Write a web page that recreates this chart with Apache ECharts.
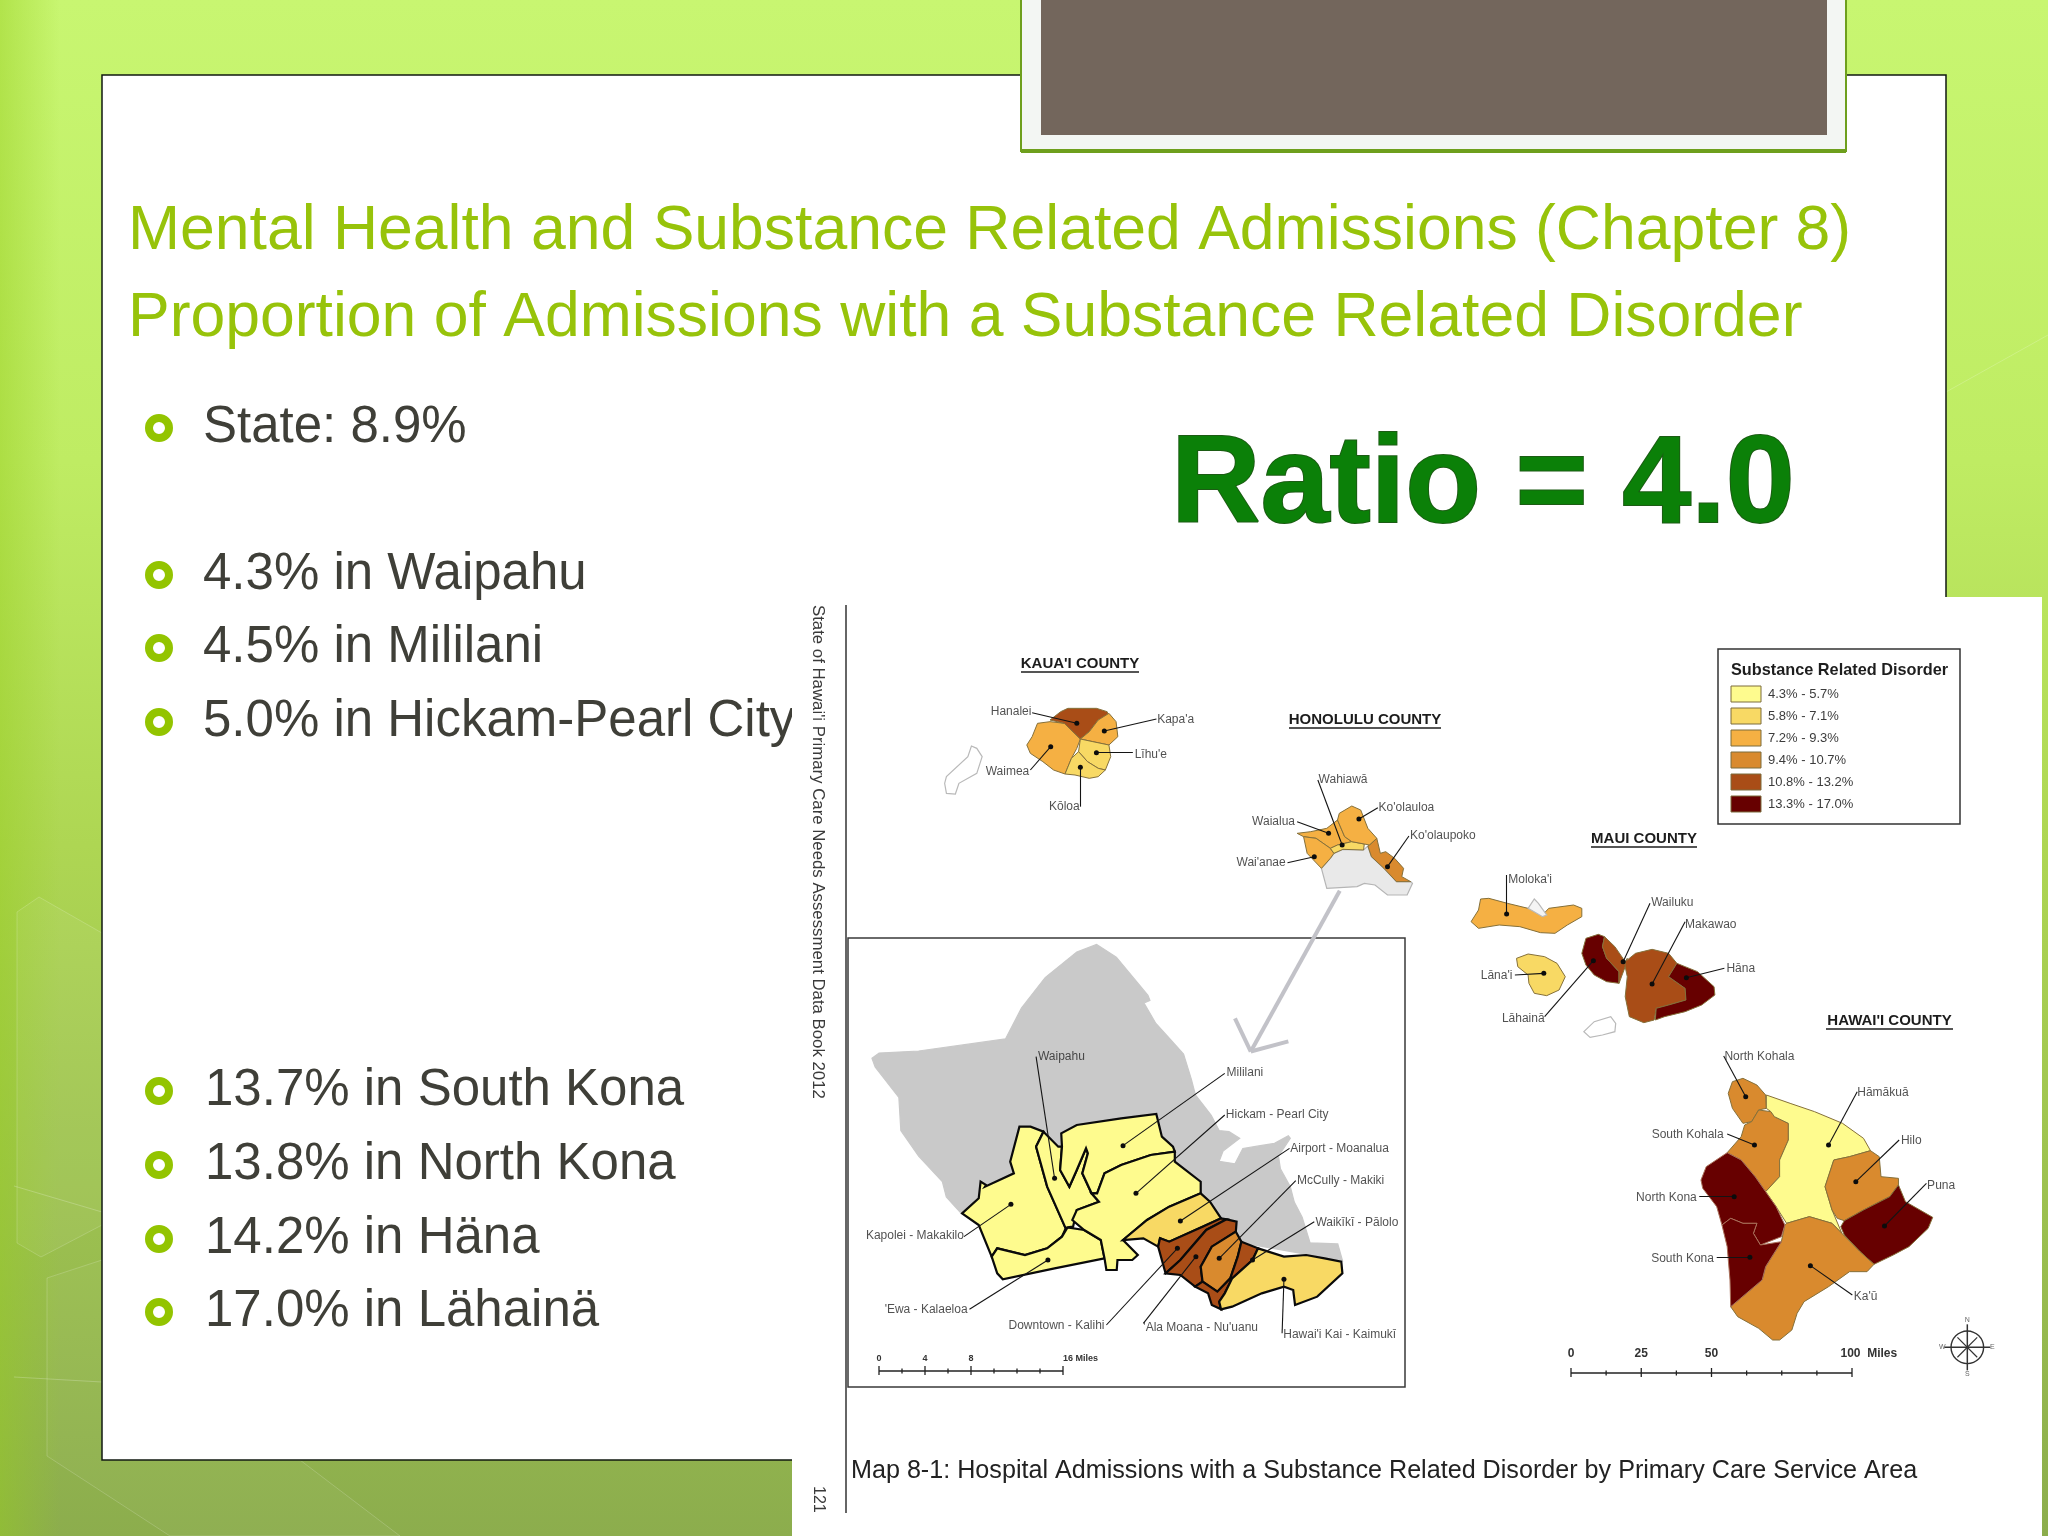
<!DOCTYPE html>
<html>
<head>
<meta charset="utf-8">
<title>Proportion of Admissions with a Substance Related Disorder</title>
<script src="https://cdn.jsdelivr.net/npm/echarts@6/dist/echarts.min.js"></script>
<style>
    html, body { margin: 0; padding: 0; background: #fff; }
    #slide { width: 2048px; height: 1536px; }
</style>
</head>
<body>
<div id="slide"></div>
<script>
var regionNames = [
    'Hanalei', "Kapa'a", "Līhu'e", 'Waimea', 'Kōloa',
    'Waialua', 'Wahiawā', "Ko'olauloa", "Ko'olaupoko", "Wai'anae",
    'Waipahu', 'Mililani', 'Hickam - Pearl City', 'Kapolei - Makakilo', "'Ewa - Kalaeloa",
    'Airport - Moanalua', 'Downtown - Kalihi', "'Ala Moana - Nu'uanu", 'McCully - Makiki',
    'Waikīkī - Pālolo', "Hawai'i Kai - Kaimukī",
    "Moloka'i", "Lāna'i", 'Lāhainā', 'Wailuku', 'Makawao', 'Hāna',
    'North Kohala', 'South Kohala', 'Hāmākuā', 'Hilo', 'Puna', "Ka'ū", 'North Kona', 'South Kona'
];
var regionRates = [
    11.6, 8.2, 6.5, 8.6, 6.3,
    8.0, 6.6, 8.5, 10.0, 8.7,
    4.3, 4.5, 5.0, 5.2, 5.4,
    6.4, 11.8, 12.2, 10.2,
    11.2, 6.8,
    8.8, 6.2, 17.0, 11.6, 11.9, 14.2,
    9.8, 9.9, 5.5, 9.6, 13.5, 10.4, 13.8, 13.7
];
var legendLabels = ['4.3% - 5.7%', '5.8% - 7.1%', '7.2% - 9.3%', '9.4% - 10.7%', '10.8% - 13.2%', '13.3% - 17.0%'];
var legendMin = [4.3, 5.8, 7.2, 9.4, 10.8, 13.3];
var legendMax = [5.7, 7.1, 9.3, 10.7, 13.2, 17.0];
var legendColors = ['#fefb8e', '#f8d964', '#f5b043', '#d98a2e', '#a94d17', '#670000'];

var stateLine = 'State: 8.9%';
var lowAreas = ['Waipahu', 'Mililani', 'Hickam-Pearl City'];
var lowRates = ['4.3', '4.5', '5.0'];
var highAreas = ['South Kona', 'North Kona', 'Häna', 'Lähainä'];
var highRates = ['13.7', '13.8', '14.2', '17.0'];

// where each outline was traced from: left, top, x zoom, y zoom of the tracing crop
var crops = {
    kauai: [900, 620, 2.8, 3],
    oahuInset: [840, 1030, 2.703, 3],
    oahuTop: [800, 600, 2.529, 1.96],
    maui: [1400, 600, 2.42, 3],
    big: [1500, 980, 2.861, 3]
};
function px(crop, x, y) {
    var c = crops[crop];
    return [c[0] + x / c[2], c[1] + y / c[3]];
}

// region outlines for the map, in traced crop units. drawn in this order
var outlines = [
    ['oahu grey', 'oahuTop', [[182,898],[200,888],[300,884],[430,870],[520,860],[560,800],[620,740],[700,690],[750,675],[800,700],[880,775],[885,785],[870,790],[900,830],[935,860],[970,890],[990,940],[1000,970],[1040,1010],[1060,1040],[1085,1042],[1112,1055],[1070,1080],[1060,1100],[1100,1105],[1120,1075],[1160,1070],[1200,1065],[1235,1050],[1240,1055],[1210,1090],[1215,1115],[1240,1150],[1250,1180],[1270,1210],[1290,1260],[1360,1262],[1372,1295],[900,1230],[405,1200],[370,1170],[360,1140],[300,1090],[255,1040],[250,975],[190,915]]],
    ['Kapolei - Makakilo', 'oahuInset', [[330,550],[375,505],[380,455],[395,465],[392,470],[470,430],[460,395],[485,290],[515,290],[550,305],[530,350],[560,470],[610,595],[600,620],[560,655],[500,675],[425,655],[410,680],[375,585]]],
    ["'Ewa - Kalaeloa", 'oahuInset', [[410,680],[425,655],[500,675],[560,655],[600,620],[615,592],[660,600],[705,630],[715,685],[580,715],[440,748],[425,730]]],
    ['Waipahu', 'oahuInset', [[550,305],[590,350],[600,350],[595,420],[620,470],[640,420],[665,355],[670,370],[655,430],[680,490],[700,515],[640,540],[630,590],[615,592],[610,595],[560,470],[530,350]]],
    ['Mililani', 'oahuInset', [[600,350],[598,310],[640,285],[760,265],[855,252],[870,320],[900,350],[905,365],[840,375],[760,405],[715,430],[695,490],[680,490],[655,430],[670,370],[665,355],[640,420],[620,470],[595,420]]],
    ['Hickam - Pearl City', 'oahuInset', [[905,365],[905,395],[975,455],[975,490],[890,530],[830,570],[765,630],[805,675],[790,690],[750,690],[748,720],[720,720],[715,685],[705,630],[660,600],[628,570],[640,540],[700,515],[680,490],[695,490],[715,430],[760,405],[840,375]]],
    ['Airport - Moanalua', 'oahuInset', [[975,490],[1000,515],[1030,565],[980,590],[890,635],[865,625],[860,650],[820,625],[765,630],[830,570],[890,530]]],
    ['Downtown - Kalihi', 'oahuInset', [[860,650],[865,625],[890,635],[980,590],[1030,565],[1045,568],[990,600],[920,690],[880,730],[870,690]]],
    ["'Ala Moana - Nu'uanu", 'oahuInset', [[1045,568],[1072,575],[1070,605],[1005,650],[975,710],[980,755],[960,770],[920,735],[880,730],[920,690],[990,600]]],
    ['McCully - Makiki', 'oahuInset', [[1070,605],[1085,635],[1075,680],[1055,745],[1020,785],[980,755],[975,710],[1005,650]]],
    ['Waikīkī - Pālolo', 'oahuInset', [[1085,635],[1130,655],[1115,690],[1060,745],[1040,790],[1025,815],[1030,838],[1005,825],[995,790],[960,770],[980,755],[1020,785],[1055,745],[1075,680]]],
    ["Hawai'i Kai - Kaimukī", 'oahuInset', [[1130,655],[1200,680],[1260,675],[1310,685],[1355,695],[1358,730],[1290,800],[1230,825],[1225,780],[1200,770],[1140,790],[1060,830],[1030,838],[1025,815],[1040,790],[1060,745],[1115,690]]],

    ["Ni'ihau", 'kauai', [[125,490],[130,470],[190,410],[200,378],[215,385],[230,410],[215,460],[165,490],[155,522],[130,520]]],
    ['Waimea', 'kauai', [[355,375],[370,350],[385,310],[420,305],[460,310],[505,357],[495,385],[480,415],[462,462],[430,450],[400,425],[365,400]]],
    ['Hanalei', 'kauai', [[420,300],[450,275],[470,265],[510,265],[550,265],[580,275],[585,290],[555,300],[530,335],[505,357],[470,320],[460,310]]],
    ["Kapa'a", 'kauai', [[585,280],[605,305],[610,350],[585,375],[540,365],[505,357],[530,335],[555,300]]],
    ["Līhu'e", 'kauai', [[505,357],[540,365],[585,375],[590,410],[575,450],[555,445],[525,425],[500,395]]],
    ['Kōloa', 'kauai', [[500,395],[525,425],[555,445],[575,450],[555,470],[530,475],[490,465],[462,462],[480,415]]],

    ['south oahu', 'kauai', [[1180,745],[1205,715],[1215,700],[1240,688],[1298,690],[1310,678],[1320,710],[1355,745],[1390,785],[1430,785],[1435,790],[1420,825],[1365,825],[1330,795],[1300,790],[1280,800],[1195,805]]],
    ['Waialua', 'kauai', [[1112,640],[1150,635],[1195,625],[1225,600],[1245,650],[1265,665],[1225,675],[1205,685],[1165,655],[1130,650]]],
    ["Wai'anae", 'kauai', [[1130,650],[1165,655],[1205,685],[1215,700],[1205,715],[1180,745],[1140,700]]],
    ['Wahiawā', 'kauai', [[1205,685],[1225,675],[1265,665],[1300,672],[1298,690],[1240,688],[1215,700]]],
    ["Ko'olauloa", 'kauai', [[1225,600],[1230,580],[1265,558],[1290,570],[1310,625],[1335,655],[1315,675],[1300,672],[1265,665],[1245,650]]],
    ["Ko'olaupoko", 'kauai', [[1315,675],[1335,655],[1345,700],[1360,695],[1385,715],[1410,745],[1405,770],[1430,785],[1390,785],[1355,745],[1320,710],[1310,678]]],

    ["Moloka'i", 'maui', [[172,965],[190,930],[195,897],[215,895],[260,910],[310,925],[325,910],[335,925],[345,945],[360,925],[420,915],[440,925],[440,950],[405,975],[375,1000],[340,998],[290,980],[240,975],[190,985]]],
    ['Kalaupapa', 'maui', [[310,925],[325,897],[335,910],[355,945],[345,950]]],
    ["Lāna'i", 'maui', [[282,1075],[310,1062],[350,1070],[380,1090],[400,1130],[385,1170],[355,1187],[325,1180],[312,1150],[310,1125],[285,1100]]],
    ["Kaho'olawe", 'maui', [[445,1295],[470,1265],[510,1250],[522,1270],[520,1295],[490,1305],[460,1312]]],
    ['Lāhainā', 'maui', [[440,1060],[450,1015],[480,1003],[495,1010],[490,1040],[500,1075],[530,1115],[530,1150],[500,1145],[470,1125],[450,1095]]],
    ['Wailuku', 'maui', [[495,1010],[520,1040],[545,1085],[550,1075],[545,1100],[530,1150],[530,1115],[500,1075],[490,1040]]],
    ['Makawao', 'maui', [[545,1085],[570,1060],[610,1048],[650,1060],[670,1090],[650,1130],[690,1165],[692,1200],[650,1215],[620,1225],[615,1260],[590,1268],[555,1250],[545,1190],[550,1130],[545,1100]]],
    ['Hāna', 'maui', [[670,1090],[690,1100],[720,1115],[760,1160],[762,1185],[730,1215],[690,1235],[640,1250],[618,1260],[620,1225],[650,1215],[692,1200],[690,1165],[650,1130]]],

    ['North Kohala', 'big', [[653,340],[665,305],[695,295],[735,315],[760,345],[762,385],[740,390],[720,425],[695,430],[665,385]]],
    ['South Kohala', 'big', [[650,518],[690,470],[700,435],[720,425],[740,390],[775,395],[785,410],[825,430],[825,480],[800,540],[800,590],[760,635],[730,590],[690,540]]],
    ['Hāmākuā', 'big', [[762,345],[830,370],[900,395],[980,430],[1040,475],[1060,512],[1000,530],[955,540],[930,620],[950,690],[978,760],[950,730],[885,710],[820,730],[790,680],[760,635],[800,590],[800,540],[825,480],[825,430],[785,410],[775,395],[762,385]]],
    ['Hilo', 'big', [[1060,512],[1085,530],[1090,590],[1140,595],[1140,615],[1115,650],[1040,690],[985,722],[965,715],[950,690],[930,620],[955,540],[1000,530]]],
    ['Puna', 'big', [[1140,615],[1160,665],[1238,712],[1225,745],[1170,800],[1125,825],[1070,853],[1030,815],[985,765],[975,740],[985,722],[1040,690],[1115,650]]],
    ["Ka'ū", 'big', [[820,730],[885,710],[950,730],[978,760],[1030,815],[1070,853],[1050,875],[1000,875],[940,920],[870,965],[850,1000],[835,1050],[800,1080],[780,1080],[740,1045],[680,1010],[660,980],[750,900],[760,860],[805,785],[815,735]]],
    ['North Kona', 'big', [[650,518],[690,540],[730,590],[760,635],[790,680],[815,735],[805,770],[745,795],[725,760],[735,730],[695,730],[660,715],[635,735],[620,680],[580,625],[575,600],[590,560]]],
    ['South Kona', 'big', [[635,735],[660,715],[695,730],[735,730],[725,760],[745,795],[805,785],[760,860],[750,900],[660,980],[658,900],[650,800]]]
];

// unshaded outlines: fill and stroke
var plainRegions = {
    'oahu grey': ['#c9c9c9', '#c9c9c9'],
    'south oahu': ['#e9e9e9', '#b5b5b5'],
    "Ni'ihau": ['#ffffff', '#b9b9b9'],
    'Kalaupapa': ['#f4f4f4', '#b9b9b9'],
    "Kaho'olawe": ['#ffffff', '#b9b9b9']
};

// callouts: crop, dot x, dot y, line end x, line end y, label x, label y, side
var callouts = [
    ['Hanalei', 'kauai', 495, 310, 370, 278, 368, 276, 'left'],
    ["Kapa'a", 'kauai', 572, 333, 718, 297, 720, 298, 'right'],
    ["Līhu'e", 'kauai', 550, 398, 652, 398, 657, 404, 'right'],
    ['Waimea', 'kauai', 422, 380, 365, 450, 362, 455, 'left'],
    ['Kōloa', 'kauai', 505, 442, 505, 560, 503, 560, 'left'],
    ['Wahiawā', 'kauai', 1238, 675, 1170, 480, 1172, 480, 'right'],
    ['Waialua', 'kauai', 1200, 640, 1112, 605, 1106, 605, 'left'],
    ["Wai'anae", 'kauai', 1160, 710, 1085, 728, 1080, 728, 'left'],
    ["Ko'olauloa", 'kauai', 1285, 597, 1338, 563, 1340, 563, 'right'],
    ["Ko'olaupoko", 'kauai', 1365, 740, 1425, 648, 1428, 648, 'right'],
    ['Waipahu', 'oahuInset', 580, 445, 530, 80, 535, 80, 'right'],
    ['Mililani', 'oahuInset', 765, 347, 1040, 130, 1045, 128, 'right'],
    ['Hickam - Pearl City', 'oahuInset', 800, 490, 1040, 255, 1043, 255, 'right'],
    ['Airport - Moanalua', 'oahuInset', 920, 573, 1215, 355, 1217, 357, 'right'],
    ['McCully - Makiki', 'oahuInset', 1025, 685, 1232, 452, 1235, 452, 'right'],
    ['Waikīkī - Pālolo', 'oahuInset', 1115, 690, 1282, 575, 1285, 577, 'right'],
    ["Hawai'i Kai - Kaimukī", 'oahuInset', 1200, 748, 1195, 910, 1198, 913, 'right'],
    ["'Ala Moana - Nu'uanu", 'oahuInset', 962, 680, 820, 880, 820, 893, 'right'],
    ['Downtown - Kalihi', 'oahuInset', 912, 655, 720, 885, 715, 888, 'left'],
    ["'Ewa - Kalaeloa", 'oahuInset', 562, 690, 350, 838, 345, 840, 'left'],
    ['Kapolei - Makakilo', 'oahuInset', 462, 523, 335, 620, 335, 618, 'left'],
    ["Moloka'i", 'maui', 258, 942, 258, 825, 262, 838, 'right'],
    ["Lāna'i", 'maui', 348, 1120, 278, 1125, 272, 1127, 'left'],
    ['Lāhainā', 'maui', 468, 1082, 350, 1250, 350, 1255, 'left'],
    ['Wailuku', 'maui', 540, 1085, 605, 910, 608, 908, 'right'],
    ['Makawao', 'maui', 610, 1152, 690, 965, 690, 975, 'right'],
    ['Hāna', 'maui', 693, 1133, 785, 1105, 790, 1105, 'right'],
    ['North Kohala', 'big', 703, 350, 640, 228, 642, 230, 'right'],
    ['South Kohala', 'big', 728, 495, 650, 462, 640, 465, 'left'],
    ['North Kona', 'big', 670, 650, 570, 650, 563, 652, 'left'],
    ['South Kona', 'big', 715, 832, 620, 832, 612, 837, 'left'],
    ['Hāmākuā', 'big', 940, 495, 1022, 335, 1022, 337, 'right'],
    ['Hilo', 'big', 1018, 605, 1142, 480, 1147, 482, 'right'],
    ['Puna', 'big', 1100, 738, 1220, 610, 1222, 617, 'right'],
    ["Ka'ū", 'big', 888, 857, 1008, 945, 1012, 950, 'right']
];

var labelFont = '"Liberation Sans", Arial, sans-serif';

var features = outlines.map(function (o) {
    var ring = o[2].map(function (p) { return px(o[1], p[0], p[1]); });
    ring.push(ring[0]);
    return {
        type: 'Feature',
        properties: { name: o[0] },
        geometry: { type: 'Polygon', coordinates: [ring] }
    };
});
echarts.registerMap('hawaii', { type: 'FeatureCollection', features: features });

var geoRegions = outlines.map(function (o) {
    var plain = plainRegions[o[0]];
    var style;
    if (plain) {
        style = { areaColor: plain[0], borderColor: plain[1], borderWidth: 1.2 };
    } else if (o[1] === 'oahuInset') {
        style = { borderColor: '#0a0a0a', borderWidth: 2.2 };
    } else if (o[0] === 'North Kona' || o[0] === 'South Kona') {
        style = { borderColor: '#a9705a', borderWidth: 1 };
    } else {
        style = { borderColor: '#85703a', borderWidth: 1 };
    }
    return { name: o[0], itemStyle: style, emphasis: { disabled: true } };
});

var mapData = regionNames.map(function (n, i) { return { name: n, value: regionRates[i] }; });

var pieces = legendLabels.map(function (l, i) {
    return { min: legendMin[i], max: legendMax[i], label: l, color: legendColors[i] };
});

var dotData = [], lineData = [], labelRight = [], labelLeft = [];
callouts.forEach(function (c) {
    var dot = px(c[1], c[2], c[3]);
    var end = px(c[1], c[4], c[5]);
    var lab = px(c[1], c[6], c[7]);
    dotData.push(dot);
    lineData.push({ coords: [dot, end] });
    (c[8] === 'right' ? labelRight : labelLeft).push({ name: c[0], value: lab });
});

function labelSeries(data, side) {
    return {
        type: 'scatter',
        coordinateSystem: 'geo',
        geoIndex: 0,
        z: 7,
        silent: true,
        symbolSize: 0,
        data: data,
        label: {
            show: true,
            position: side,
            distance: 0,
            formatter: '{b}',
            color: '#262626',
            fontSize: 12,
            fontFamily: labelFont
        }
    };
}

// slide furniture
function text(str, x, y, size, color, extra) {
    var style = {
        text: str, x: x, y: y,
        font: size + 'px ' + labelFont,
        fill: color,
        verticalAlign: 'middle'
    };
    var el = { type: 'text', z: 2, silent: true, style: style };
    if (extra) {
        for (var k in extra) {
            if (k === 'z' || k === 'rotation' || k === 'x' || k === 'y') { el[k] = extra[k]; } else { style[k] = extra[k]; }
        }
    }
    return el;
}
function box(x, y, w, h, fill, z, stroke, lw) {
    return {
        type: 'rect', z: z, silent: true,
        shape: { x: x, y: y, width: w, height: h },
        style: { fill: fill, stroke: stroke || 'none', lineWidth: lw || 0 }
    };
}
function seg(x1, y1, x2, y2, color, lw, z) {
    return {
        type: 'line', z: z, silent: true,
        shape: { x1: x1, y1: y1, x2: x2, y2: y2 },
        style: { stroke: color, lineWidth: lw }
    };
}
function hex(points, opacity) {
    return {
        type: 'polygon', z: 0, silent: true,
        shape: { points: points },
        style: { fill: 'rgba(255,255,255,' + opacity + ')', stroke: 'rgba(255,255,255,0.18)', lineWidth: 1 }
    };
}

var els = [];
els.push({
    type: 'rect', z: 0, silent: true,
    shape: { x: 0, y: 0, width: 2048, height: 1536 },
    style: {
        fill: new echarts.graphic.LinearGradient(0, 0, 0, 1, [
            { offset: 0, color: '#c8f671' },
            { offset: 0.3, color: '#bfec63' },
            { offset: 0.55, color: '#aed653' },
            { offset: 1, color: '#8cad4d' }
        ])
    }
});
els.push({
    type: 'rect', z: 0, silent: true,
    shape: { x: 0, y: 0, width: 60, height: 1536 },
    style: {
        fill: new echarts.graphic.LinearGradient(0, 0, 1, 0, [
            { offset: 0, color: 'rgba(150,205,30,0.45)' },
            { offset: 1, color: 'rgba(150,205,30,0)' }
        ])
    }
});
els.push(hex([[17,912],[39,897],[102,933],[102,1225],[41,1257],[17,1243]], 0.05));
els.push(hex([[47,1278],[102,1260],[102,1460],[300,1460],[400,1536],[170,1536],[47,1456]], 0.03));
els.push(seg(1946, 392, 2048, 335, 'rgba(255,255,255,0.2)', 1, 0));
els.push(seg(14, 1186, 102, 1212, 'rgba(255,255,255,0.22)', 1, 0));
els.push(seg(14, 1377, 102, 1382, 'rgba(255,255,255,0.22)', 1, 0));

els.push(box(102, 75, 1844, 1385, '#ffffff', 1, '#101810', 1.5));
els.push(box(1021, -4, 825, 155, '#f3f6f3', 1, '#6e9f1d', 2));
els.push(seg(1021, 151, 1846, 151, '#6e9f1d', 4, 1));
els.push(box(1041, -2, 786, 137, '#73665c', 1));

els.push(text('Mental Health and Substance Related Admissions (Chapter 8)', 128, 232, 62.5, '#97c30a'));
els.push(text('Proportion of Admissions with a Substance Related Disorder', 128, 319, 62.5, '#97c30a'));

function bullet(y, str, textX) {
    els.push({
        type: 'ring', z: 2, silent: true,
        shape: { cx: 159, cy: y, r: 14, r0: 6 },
        style: { fill: '#93c400' }
    });
    els.push(text(str, textX, y, 51, '#3f3f38'));
}
bullet(428, stateLine, 203);
[575, 648, 722].forEach(function (y, i) { bullet(y, lowRates[i] + '% in ' + lowAreas[i], 203); });
[1091, 1165, 1239, 1312].forEach(function (y, i) { bullet(y, highRates[i] + '% in ' + highAreas[i], 205); });

els.push(text('Ratio = 4.0', 1171, 488, 124, '#0b8008', {
    font: 'bold 124px ' + labelFont,
    stroke: '#1c5c14', lineWidth: 2,
    shadowColor: 'rgba(0,0,0,0.6)', shadowBlur: 6, shadowOffsetX: 2, shadowOffsetY: 4
}));

// the pasted map page: sits over the slide text
els.push(box(792, 597, 1250, 939, '#ffffff', 3));
els.push(seg(846, 605, 846, 1513, '#333333', 1.5, 4));
els.push(text("State of Hawai'i Primary Care Needs Assessment Data Book 2012", 0, 0, 16.8, '#3a3a3a', { z: 4, x: 818, y: 605, rotation: -Math.PI / 2 }));
els.push(text('121', 0, 0, 16, '#3a3a3a', { z: 4, x: 818, y: 1486, rotation: -Math.PI / 2 }));
els.push(text('Map 8-1: Hospital Admissions with a Substance Related Disorder by Primary Care Service Area', 851, 1471, 25.15, '#222222', { z: 4 }));

// inset frame
els.push(box(848, 938, 557, 449, 'none', 4, '#3a3a3a', 1.5));

// arrow from the island to the inset
var a0 = px('oahuTop', 1365, 570), a1 = px('oahuTop', 1140, 885), a2 = px('oahuTop', 1100, 820), a3 = px('oahuTop', 1235, 865);
els.push(seg(a0[0], a0[1], a1[0], a1[1], '#c2c2c8', 4, 6));
els.push(seg(a2[0], a2[1], a1[0], a1[1], '#c2c2c8', 4, 6));
els.push(seg(a3[0], a3[1], a1[0], a1[1], '#c2c2c8', 4, 6));

// county headings, underlined
function county(str, x1, x2, y) {
    els.push(text(str, (x1 + x2) / 2, y - 8, 15, '#1c1c1c', { z: 4, font: 'bold 15px ' + labelFont, align: 'center' }));
    els.push(seg(x1, y, x2, y, '#1c1c1c', 1.4, 4));
}
county("KAUA'I COUNTY", 1021, 1139, 672);
county('HONOLULU COUNTY', 1289, 1441, 728);
county('MAUI COUNTY', 1591, 1697, 847);
county("HAWAI'I COUNTY", 1826, 1953, 1029);

// scale bars
function scaleBar(x0, x1, y, ticks, labels) {
    els.push(seg(x0, y, x1, y, '#222', 1.3, 4));
    for (var i = 0; i <= ticks; i++) {
        var x = x0 + (x1 - x0) * i / ticks;
        var tall = i === 0 || i === ticks || i === ticks / 2 || i === ticks / 4;
        els.push(seg(x, y - (tall ? 5 : 2.5), x, y + (tall ? 4 : 2.5), '#222', 1.3, 4));
    }
    labels.forEach(function (l) {
        els.push(text(l[0], x0 + (x1 - x0) * l[1], y - 12 - l[2], l[3], '#333', { z: 4, font: 'bold ' + l[3] + 'px ' + labelFont, align: l[4] || 'center' }));
    });
}
scaleBar(879, 1063, 1371, 8, [['0', 0, 0, 9], ['4', 0.25, 0, 9], ['8', 0.5, 0, 9], ['16 Miles', 1, 0, 9, 'left']]);
scaleBar(1571, 1852, 1373, 8, [['0', 0, 7, 12], ['25', 0.25, 7, 12], ['50', 0.5, 7, 12], ['100  Miles', 1.06, 7, 12, 'center']]);

// compass
var cc = px('big', 1337, 1102);
els.push({ type: 'ring', z: 4, silent: true, shape: { cx: cc[0], cy: cc[1], r: 17, r0: 15.6 }, style: { fill: '#333' } });
[0, 45, 90, 135].forEach(function (d) {
    var s = d % 90 === 0 ? 23 : 14, r = d * Math.PI / 180;
    els.push(seg(cc[0] - s * Math.cos(r), cc[1] - s * Math.sin(r), cc[0] + s * Math.cos(r), cc[1] + s * Math.sin(r), '#333', d % 90 === 0 ? 1.5 : 1.2, 4));
});
[['N', 0, -27], ['S', 0, 27], ['E', 25, 0], ['W', -25, 0]].forEach(function (m) {
    els.push(text(m[0], cc[0] + m[1], cc[1] + m[2], 7, '#666', { z: 4, align: 'center' }));
});

// legend frame and heading; the swatches come from visualMap
els.push(box(1718, 649, 242, 175, '#ffffff', 4, '#333', 1.5));
els.push(text('Substance Related Disorder', 1731, 671, 16.3, '#1e1e1e', { z: 5, font: 'bold 16.3px ' + labelFont }));
legendLabels.forEach(function (l, i) {
    els.push(box(1731, 686 + 22 * i, 30, 16, 'none', 9, '#7d6c3c', 1));
});

var chart = echarts.init(document.getElementById('slide'));
chart.setOption({
    animation: false,
    backgroundColor: '#ffffff',
    geo: {
        map: 'hawaii',
        z: 5,
        silent: true,
        roam: false,
        left: 0,
        top: 0,
        width: 2048,
        height: 1536,
        boundingCoords: [[0, 0], [2048, 1536]],
        projection: {
            project: function (p) { return p; },
            unproject: function (p) { return p; }
        },
        label: { show: false },
        itemStyle: { areaColor: '#ffffff', borderColor: '#85703a', borderWidth: 1 },
        emphasis: { disabled: true },
        regions: geoRegions
    },
    visualMap: {
        type: 'piecewise',
        seriesIndex: 0,
        orient: 'vertical',
        inverse: true,
        align: 'left',
        left: 1731,
        top: 686,
        z: 8,
        padding: 0,
        itemWidth: 30,
        itemHeight: 16,
        itemGap: 6,
        textGap: 7,
        itemSymbol: 'rect',
        selectedMode: false,
        hoverLink: false,
        textStyle: { color: '#3c3c3c', fontSize: 13, fontFamily: labelFont },
        pieces: pieces
    },
    series: [
        { type: 'map', geoIndex: 0, data: mapData },
        {
            type: 'lines',
            coordinateSystem: 'geo',
            geoIndex: 0,
            z: 6,
            silent: true,
            polyline: false,
            lineStyle: { color: '#141414', width: 1.1, opacity: 1, curveness: 0 },
            data: lineData
        },
        {
            type: 'scatter',
            coordinateSystem: 'geo',
            geoIndex: 0,
            z: 7,
            silent: true,
            symbolSize: 5,
            itemStyle: { color: '#0c0c0c', opacity: 1 },
            data: dotData
        },
        labelSeries(labelRight, 'right'),
        labelSeries(labelLeft, 'left')
    ],
    graphic: { elements: els }
});
</script>
</body>
</html>
